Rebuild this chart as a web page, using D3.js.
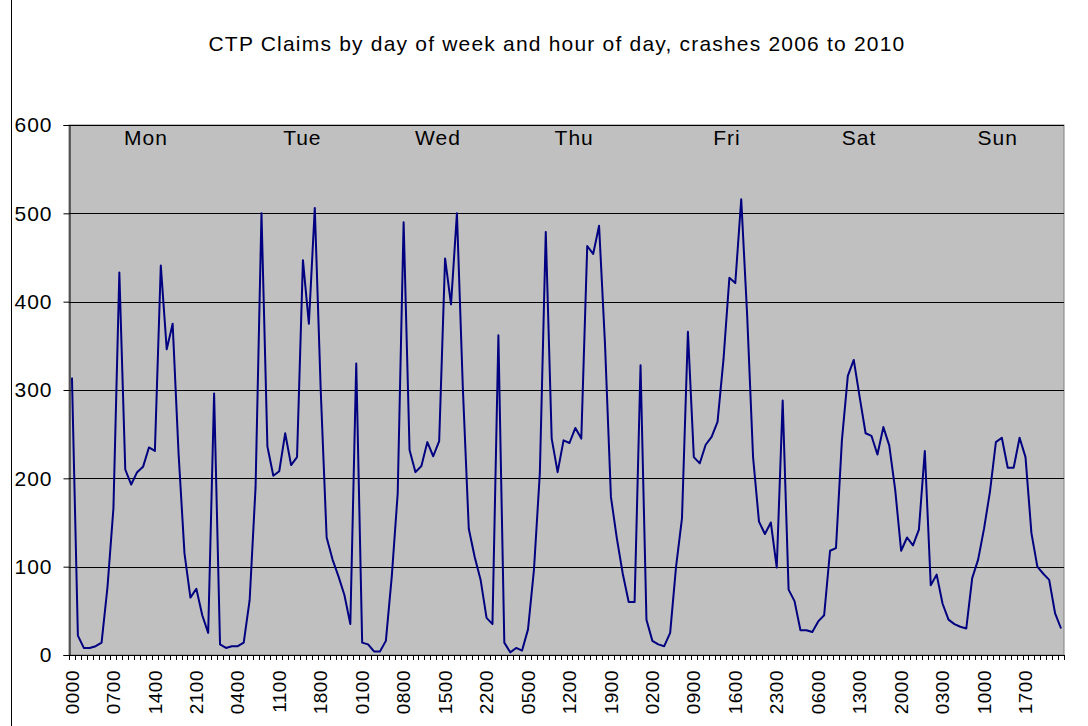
<!DOCTYPE html>
<html>
<head>
<meta charset="utf-8">
<script src="https://cdn.jsdelivr.net/npm/d3@7"></script>
<style>
  body { margin: 0; background: #fff; }
  svg { display: block; font-family: "Liberation Sans", Arial, sans-serif; }
</style>
</head>
<body>
<div id="chart"></div>
<script>
// claims per hour, one array per day (0000 .. 2300)
const mon = [314, 22, 8, 8, 10, 14, 77, 166, 433, 210, 193, 207, 213, 235, 231, 441, 346, 375, 228, 115, 65, 75, 45, 25]
const tue = [296, 12, 8, 10, 10, 14, 62, 190, 500, 236, 203, 208, 251, 215, 224, 447, 375, 506, 300, 133, 108, 89, 68, 35]
const wed = [330, 14, 12, 4, 4, 16, 89, 183, 490, 232, 207, 214, 241, 225, 242, 449, 397, 500, 302, 143, 111, 85, 42, 35]
const thu = [362, 14, 3, 8, 5, 29, 96, 206, 479, 245, 207, 243, 240, 257, 245, 463, 454, 486, 352, 179, 132, 92, 60, 60]
const fri = [328, 40, 16, 12, 10, 25, 100, 155, 366, 224, 217, 238, 247, 264, 334, 427, 421, 516, 385, 224, 151, 137, 150, 99]
const sat = [288, 74, 61, 28, 28, 26, 38, 45, 118, 121, 243, 316, 334, 292, 251, 248, 227, 258, 237, 187, 118, 133, 124, 142]
const sun = [231, 79, 91, 58, 40, 35, 32, 30, 87, 108, 143, 185, 241, 246, 212, 212, 246, 224, 138, 100, 92, 85, 47, 30]

const days = ['Mon', 'Tue', 'Wed', 'Thu', 'Fri', 'Sat', 'Sun']
const tickLabels = ['0000', '0700', '1400', '2100', '0400', '1100', '1800', '0100', '0800', '1500', '2200', '0500',
                    '1200', '1900', '0200', '0900', '1600', '2300', '0600', '1300', '2000', '0300', '1000', '1700']
const yTicks = [0, 100, 200, 300, 400, 500, 600]

const values = [].concat(mon, tue, wed, thu, fri, sat, sun)
const data = values.map((v, i) => ({i: i, value: v}))

const width = 1088, height = 726
const margin = {top: 125, right: 24, bottom: 71, left: 69}

const svg = d3.select('#chart').append('svg')
    .attr('width', width)
    .attr('height', height)

// chart area border (left edge only visible)
svg.append('line')
    .attr('x1', 11.5).attr('x2', 11.5)
    .attr('y1', 0).attr('y2', height)
    .attr('stroke', '#000').attr('stroke-width', 1)

svg.append('text')
    .attr('x', 557)
    .attr('y', 51)
    .attr('text-anchor', 'middle')
    .attr('font-size', 21)
    .attr('letter-spacing', 1.2)
    .attr('fill', '#000')
    .text('CTP Claims by day of week and hour of day, crashes 2006 to 2010')

const x = d3.scaleBand()
    .domain(d3.range(values.length))
    .range([margin.left, width - margin.right])
    .padding(0)

const y = d3.scaleLinear()
    .domain([0, 600])
    .range([height - margin.bottom, margin.top])

const cx = i => x(i) + x.bandwidth() / 2

// plot area
svg.append('rect')
    .attr('x', margin.left)
    .attr('y', margin.top)
    .attr('width', width - margin.left - margin.right)
    .attr('height', height - margin.top - margin.bottom)
    .attr('fill', '#c0c0c0')
    .attr('stroke', '#808080')

// gridlines
svg.append('g')
  .selectAll('line')
  .data(yTicks.slice(1))
  .join('line')
    .attr('x1', margin.left)
    .attr('x2', width - margin.right)
    .attr('y1', d => Math.round(y(d)) + 0.5)
    .attr('y2', d => Math.round(y(d)) + 0.5)
    .attr('stroke', '#000')
    .attr('stroke-width', 1)

// y axis
const yAxis = d3.axisLeft(y)
    .tickValues(yTicks)
    .tickSize(6)
    .tickPadding(11)
    .tickFormat(d3.format('d'))

svg.append('g')
    .attr('transform', `translate(${margin.left + 0.5},0)`)
    .call(yAxis)
    .call(g => g.select('.domain').attr('stroke', '#000'))
    .call(g => g.selectAll('.tick line').attr('stroke', '#000'))
    .call(g => g.selectAll('.tick text')
        .attr('font-size', 21)
        .attr('letter-spacing', 1)
        .attr('font-family', '"Liberation Sans", Arial, sans-serif')
        .attr('fill', '#000'))

// x axis: tick marks at every category boundary
const xg = svg.append('g')
    .attr('transform', `translate(0,${height - margin.bottom})`)

xg.append('line')
    .attr('x1', margin.left)
    .attr('x2', width - margin.right)
    .attr('y1', 0.5).attr('y2', 0.5)
    .attr('stroke', '#000')

xg.selectAll('.tk')
  .data(d3.range(values.length + 1))
  .join('line')
    .attr('class', 'tk')
    .attr('x1', d => Math.round(d < values.length ? x(d) : x.range()[1]) + 0.5)
    .attr('x2', d => Math.round(d < values.length ? x(d) : x.range()[1]) + 0.5)
    .attr('y1', 0)
    .attr('y2', 5)
    .attr('stroke', '#000')

xg.selectAll('.lbl')
  .data(tickLabels)
  .join('text')
    .attr('class', 'lbl')
    .attr('transform', (d, k) => `translate(${cx(k * 7)},15) rotate(-90)`)
    .attr('text-anchor', 'end')
    .attr('dy', '0.35em')
    .attr('font-size', 19)
    .attr('letter-spacing', 0.5)
    .attr('fill', '#000')
    .text(d => d)

// the series
const line = d3.line()
    .x(d => cx(d.i))
    .y(d => y(d.value))

svg.append('path')
    .datum(data)
    .attr('fill', 'none')
    .attr('stroke', '#000080')
    .attr('stroke-width', 2)
    .attr('stroke-linejoin', 'round')
    .attr('d', line)

// day labels (text boxes placed along the axis, in category units)
const dayAt = [12.5, 38.9, 61.8, 84.8, 110.6, 132.9, 156.3]
svg.append('g')
  .selectAll('text')
  .data(days)
  .join('text')
    .attr('x', (d, k) => x(0) + dayAt[k] * x.step() + x.bandwidth() / 2)
    .attr('y', 145)
    .attr('text-anchor', 'middle')
    .attr('font-size', 21)
    .attr('letter-spacing', 1)
    .attr('fill', '#000')
    .text(d => d)
</script>
</body>
</html>
